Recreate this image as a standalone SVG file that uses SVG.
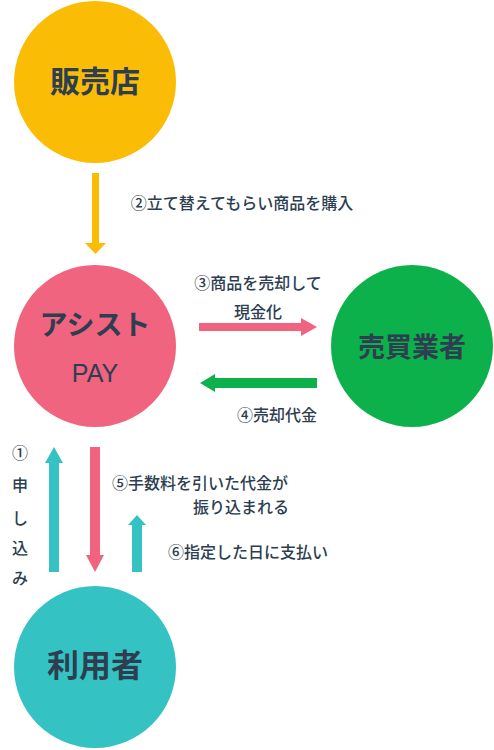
<svg xmlns="http://www.w3.org/2000/svg" width="494" height="750" viewBox="0 0 494 750">
<style>
.node-label{font-family:"Noto Sans CJK JP","Noto Sans",sans-serif;font-weight:bold;font-size:28px;fill:#2c3e50;text-anchor:middle}
.pay{font-family:"Liberation Sans","Noto Sans",sans-serif;font-weight:normal;font-size:25px;fill:#2c3e50;text-anchor:middle}
.lbl{font-family:"Noto Sans CJK JP",sans-serif;font-weight:500;font-size:16px;fill:#2c3e50;text-anchor:middle}
.yellow{fill:#fbbc05}
.pink{fill:#f0647f}
.green{fill:#0db14b}
.teal{fill:#35c2c3}
</style>
<rect width="494" height="750" fill="#ffffff"/>
<g id="node-shop">
<circle class="yellow" cx="95" cy="82" r="81"/>
<text class="node-label" x="95" y="92" style="font-size:30px">販売店</text>
</g>
<g id="node-assist">
<circle class="pink" cx="95" cy="346" r="81"/>
<text class="node-label" x="95" y="335">アシスト</text>
<text class="pay" x="95" y="382">PAY</text>
</g>
<g id="node-buyer">
<circle class="green" cx="412" cy="346" r="81"/>
<text class="node-label" x="412" y="357" style="font-size:27px">売買業者</text>
</g>
<g id="node-user">
<circle class="teal" cx="95" cy="667" r="81"/>
<text class="node-label" x="95" y="677" style="font-size:32px">利用者</text>
</g>
<g id="connectors">
<path class="yellow" d="M92,173 H99 V243 H106 L95.5,254 L85,243 H92 Z"/>
<path class="pink" d="M199,323 H301 V318 L317,327 L301,336 V331 H199 Z"/>
<path class="green" d="M317,378 H215 V374 L200,383 L215,392 V388 H317 Z"/>
<path class="teal" d="M49,572 V463 H45 L54,447 L63,463 H59 V572 Z"/>
<path class="pink" d="M90,447 H100 V555 H104 L95,572 L86,555 H90 Z"/>
<path class="teal" d="M132,572 V525 H128 L137,515 L146,525 H142 V572 Z"/>
</g>
<g id="labels">
<text class="lbl" x="242" y="209">②立て替えてもらい商品を購入</text>
<text class="lbl" x="258" y="289">③商品を売却して</text>
<text class="lbl" x="258" y="318">現金化</text>
<text class="lbl" x="277" y="421">④売却代金</text>
<text class="lbl" x="200" y="489">⑤手数料を引いた代金が</text>
<text class="lbl" x="241" y="513">振り込まれる</text>
<text class="lbl" x="248" y="558">⑥指定した日に支払い</text>
<text class="lbl" x="20" y="459">①</text>
<text class="lbl" x="20" y="491">申</text>
<text class="lbl" x="20" y="524">し</text>
<text class="lbl" x="20" y="554">込</text>
<text class="lbl" x="20" y="584">み</text>
</g>
</svg>
